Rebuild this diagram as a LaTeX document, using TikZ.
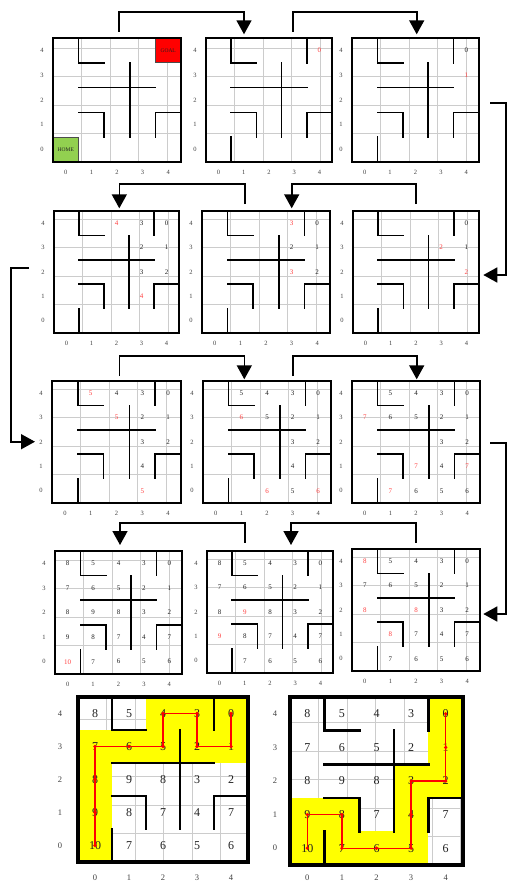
\documentclass[tikz,border=0pt]{standalone}
\usepackage{fontspec}
\setmainfont{Liberation Serif}
\usetikzlibrary{arrows.meta}
\definecolor{numred}{HTML}{FF4040}
\definecolor{goalred}{HTML}{FF0000}
\definecolor{homegreen}{HTML}{92D050}
\definecolor{pathyellow}{HTML}{FFFF00}
\definecolor{labgray}{HTML}{404040}
\definecolor{numgray}{HTML}{222222}
\def\numfont{\fontsize{7}{8}\selectfont}
\def\labfont{\fontsize{6.5}{7}\selectfont}
\def\wallw{1.7pt}
\def\framew{2.6pt}
\def\labdx{11}
\def\labdy{10}
\tikzset{
  gridline/.style={draw=black!20, line width=0.6pt},
  wall/.style={draw=black, line width=\wallw, line cap=rect, line join=miter},
  frame/.style={draw=black, line width=\framew, line join=miter},
  num/.style={font=\numfont, text=numgray, inner sep=0pt},
  rednum/.style={num, text=numred},
  lab/.style={font=\labfont, text=labgray, inner sep=0pt},
  flow/.style={draw=black, line width=1.6pt, -{Triangle[width=15pt,length=14pt]}},
  gridnode/.style={inner sep=0pt, outer sep=0pt, draw=none, anchor=north west},
  route/.style={draw=red, line width=1.4pt, line join=round},
  cellmark/.style={draw=black!70, line width=0.6pt},
}
\newcommand\stdwalls{%
  \draw[wall] (1,5) -- (1,4) -- (2,4);
  \draw[wall] (1,3) -- (4,3);
  \draw[wall] (3,4) -- (3,1);
  \draw[wall] (1,2) -- (2,2) -- (2,1);
  \draw[wall] (5,2) -- (4,2) -- (4,1);
  \draw[wall] (4,5) -- (4,4);
  \draw[wall] (1,0) -- (1,1);}
\newcommand\stdwallsA{%
  \draw[wall] (1,5) -- (1,4) -- (2,4);
  \draw[wall] (1,3) -- (4,3);
  \draw[wall] (3,4) -- (3,1);
  \draw[wall] (1,2) -- (2,2) -- (2,1);
  \draw[wall] (5,2) -- (4,2) -- (4,1);}
\newcommand\nm[3]{\node[num] (\gname-#1-#2) at (#1+0.5,#2+0.5) {#3};}
\newcommand\rn[3]{\node[rednum] (\gname-#1-#2) at (#1+0.5,#2+0.5) {#3};}
\newcommand\cellfill[3]{\fill[#1] (#2,#3) rectangle ++(1,1);}
% #1 name, #2 x, #3 ytop, #4 cell w, #5 cell h, #6 fills, #7 walls, #8 numbers
\newcommand\maze[8]{%
  \def\gname{#1}%
  \node[gridnode, minimum width=5*#4pt, minimum height=5*#5pt] (#1) at (#2,#3) {};
  \begin{scope}[shift={(#1.south west)}, x=#4pt, y=#5pt]
    \draw[gridline] (0,0) grid (5,5);
    #6
    #7
    \draw[frame] (0,0) rectangle (5,5);
    #8
    \foreach \i in {0,...,4} {
      \node[lab] (#1-row\i) at ({-\labdx/#4}, \i+0.5) {\i};
      \node[lab] (#1-col\i) at (\i+0.5, {-\labdy/#5}) {\i};
    }
  \end{scope}
}
\def\allnums{0/4/8,1/4/5,2/4/4,3/4/3,4/4/0,0/3/7,1/3/6,2/3/5,3/3/2,4/3/1,0/2/8,1/2/9,2/2/8,3/2/3,4/2/2,0/1/9,1/1/8,2/1/7,3/1/4,4/1/7,0/0/10,1/0/7,2/0/6,3/0/5,4/0/6}
\def\Lnums{1/4/5,2/4/4,3/4/3,4/4/0,0/3/7,1/3/6,2/3/5,3/3/2,4/3/1,3/2/3,4/2/2,2/1/7,3/1/4,4/1/7,1/0/7,2/0/6,3/0/5,4/0/6}
\begin{document}
\begin{tikzpicture}[x=1pt,y=-1pt]
\useasboundingbox (0,0) rectangle (507,883);
\fill[white] (0,0) rectangle (507,883);

% ---------- row 1 ----------
\maze{gA}{53}{38}{25.6}{24.8}{%
  \fill[homegreen] (0,0) rectangle (1,1);
  \fill[goalred] (4,4) rectangle (5,5);
}{\stdwallsA
  \draw[cellmark] (0,0) rectangle (1,1);
  \draw[cellmark] (4,4) rectangle (5,5);
}{%
  \node[num, font=\fontsize{5.5}{6}\selectfont] (gA-home) at (0.5,0.5) {HOME};
  \node[num, font=\fontsize{5.5}{6}\selectfont] (gA-goal) at (4.5,4.5) {GOAL};
}
\maze{gB}{206}{38}{25.2}{24.8}{}{\stdwalls}{\rn{4}{4}{0}}
\maze{gC}{352}{38}{25.4}{24.8}{}{\stdwalls}{\nm{4}{4}{0}\rn{4}{3}{1}}

% ---------- row 2 ----------
\maze{gD}{54}{211}{25}{24.4}{}{\stdwalls}{%
  \foreach \c/\r/\t in {3/4/3,4/4/0,3/3/2,4/3/1,3/2/3,4/2/2} {\nm{\c}{\r}{\t}}
  \rn{2}{4}{4}\rn{3}{1}{4}}
\maze{gE}{202}{211}{25.6}{24.4}{}{\stdwalls}{%
  \foreach \c/\r/\t in {4/4/0,3/3/2,4/3/1,4/2/2} {\nm{\c}{\r}{\t}}
  \rn{3}{4}{3}\rn{3}{2}{3}}
\maze{gF}{353}{211}{25.2}{24.4}{}{\stdwalls}{%
  \nm{4}{4}{0}\nm{4}{3}{1}\rn{3}{3}{2}\rn{4}{2}{2}}

% ---------- row 3 ----------
\maze{gG}{52}{381}{25.8}{24.4}{}{\stdwalls}{%
  \foreach \c/\r/\t in {2/4/4,3/4/3,4/4/0,3/3/2,4/3/1,3/2/3,4/2/2,3/1/4} {\nm{\c}{\r}{\t}}
  \rn{1}{4}{5}\rn{2}{3}{5}\rn{3}{0}{5}}
\maze{gH}{203}{381}{25.6}{24.4}{}{\stdwalls}{%
  \foreach \c/\r/\t in {1/4/5,2/4/4,3/4/3,4/4/0,2/3/5,3/3/2,4/3/1,3/2/3,4/2/2,3/1/4,3/0/5} {\nm{\c}{\r}{\t}}
  \rn{1}{3}{6}\rn{2}{0}{6}\rn{4}{0}{6}}
\maze{gI}{352}{381}{25.6}{24.4}{}{\stdwalls}{%
  \foreach \c/\r/\t in {1/4/5,2/4/4,3/4/3,4/4/0,1/3/6,2/3/5,3/3/2,4/3/1,3/2/3,4/2/2,3/1/4,2/0/6,3/0/5,4/0/6} {\nm{\c}{\r}{\t}}
  \rn{0}{3}{7}\rn{2}{1}{7}\rn{4}{1}{7}\rn{1}{0}{7}}

% ---------- row 4 ----------
\maze{gJ}{55}{551}{25.4}{24.6}{}{\stdwalls}{%
  \foreach \c/\r/\t in \allnums {\ifnum\t=10 \rn{\c}{\r}{\t}\else\nm{\c}{\r}{\t}\fi}}
\maze{gK}{207}{551}{25.2}{24.4}{}{\stdwalls}{%
  \foreach \c/\r/\t in \Lnums {\nm{\c}{\r}{\t}}
  \nm{0}{4}{8}\nm{0}{2}{8}\nm{2}{2}{8}\nm{1}{1}{8}
  \rn{1}{2}{9}\rn{0}{1}{9}}
\maze{gL}{352}{549}{25.6}{24.4}{}{\stdwalls}{%
  \foreach \c/\r/\t in \Lnums {\nm{\c}{\r}{\t}}
  \rn{0}{4}{8}\rn{0}{2}{8}\rn{2}{2}{8}\rn{1}{1}{8}}

% ---------- bottom: solved paths ----------
\def\numfont{\fontsize{12}{13}\selectfont}
\def\labfont{\fontsize{8.5}{9}\selectfont}
\def\wallw{2.6pt}
\def\framew{3.6pt}
\def\labdx{18}
\def\labdy{15.5}
\maze{gM}{78}{697}{34}{33}{%
  \foreach \c/\r in {0/0,0/1,0/2,0/3,1/3,2/3,3/3,4/3,2/4,3/4,4/4} {\cellfill{pathyellow}{\c}{\r}}
}{\stdwalls}{%
  \foreach \c/\r/\t in \allnums {\nm{\c}{\r}{\t}}
  \draw[route] (gM-0-0.center) -- (gM-0-3.center) -- (gM-2-3.center) -- (gM-2-4.center)
    -- (gM-3-4.center) -- (gM-3-3.center) -- (gM-4-3.center) -- (gM-4-4.center);
  \foreach \c/\r in {0/0,0/1,0/2,0/3,1/3,2/3,2/4,3/4,3/3,4/3,4/4} {\fill[red] (gM-\c-\r.center) circle (1.8pt);}
}
\def\labdx{15}
\def\labdy{12.5}
\maze{gN}{290}{697}{34.6}{33.6}{%
  \foreach \c/\r in {0/0,0/1,1/1,1/0,2/0,3/0,3/1,3/2,4/2,4/3,4/4} {\cellfill{pathyellow}{\c}{\r}}
}{\stdwalls}{%
  \foreach \c/\r/\t in \allnums {\nm{\c}{\r}{\t}}
  \draw[route] (gN-0-0.center) -- (gN-0-1.center) -- (gN-1-1.center) -- (gN-1-0.center)
    -- (gN-3-0.center) -- (gN-3-2.center) -- (gN-4-2.center) -- (gN-4-4.center);
  \foreach \c/\r in {0/0,0/1,1/1,1/0,2/0,3/0,3/1,3/2,4/2,4/3,4/4} {\fill[red] (gN-\c-\r.center) circle (1.8pt);}
}

% ---------- connectors ----------
\draw[flow] ([xshift=2pt,yshift=6pt]gA.north) -- ++(0,-20) -| ([xshift=-25pt,yshift=3.7pt]gB.north);
\draw[flow] ([xshift=23.7pt,yshift=6pt]gB.north) -- ++(0,-20) -| ([xshift=1.2pt,yshift=3.7pt]gC.north);
\draw[flow] ([xshift=11pt,yshift=-2.7pt]gC.east) -- ++(15.8,0) |- ([xshift=4.3pt,yshift=-3pt]gF.east);
\draw[flow] ([yshift=7pt]gF.north) -- ++(0,-20) -| ([xshift=25.7pt,yshift=2.7pt]gE.north);
\draw[flow] ([xshift=-21pt,yshift=7pt]gE.north) -- ++(0,-20) -| ([xshift=2.8pt,yshift=2.7pt]gD.north);
\draw[flow] ([xshift=-25pt,yshift=4pt]gD.west) -- ++(-18,0) |- ([xshift=-17pt,yshift=0.3pt]gG.west);
\draw[flow] ([xshift=2.8pt,yshift=5pt]gG.north) -- ++(0,-20) -| ([xshift=-22.7pt,yshift=1.7pt]gH.north);
\draw[flow] ([xshift=25.7pt,yshift=5pt]gH.north) -- ++(0,-20) -| ([xshift=0.7pt,yshift=1.7pt]gI.north);
\draw[flow] ([xshift=10pt,yshift=-0.7pt]gI.east) -- ++(15.8,0) |- ([xshift=3.3pt,yshift=-4pt]gL.east);
\draw[flow] ([yshift=6.3pt]gL.north) -- ++(0,-20) -| ([xshift=21pt,yshift=6pt]gK.north);
\draw[flow] ([xshift=-25pt,yshift=8.3pt]gK.north) -- ++(0,-20) -| ([xshift=1.5pt,yshift=6pt]gJ.north);
\end{tikzpicture}
\end{document}
